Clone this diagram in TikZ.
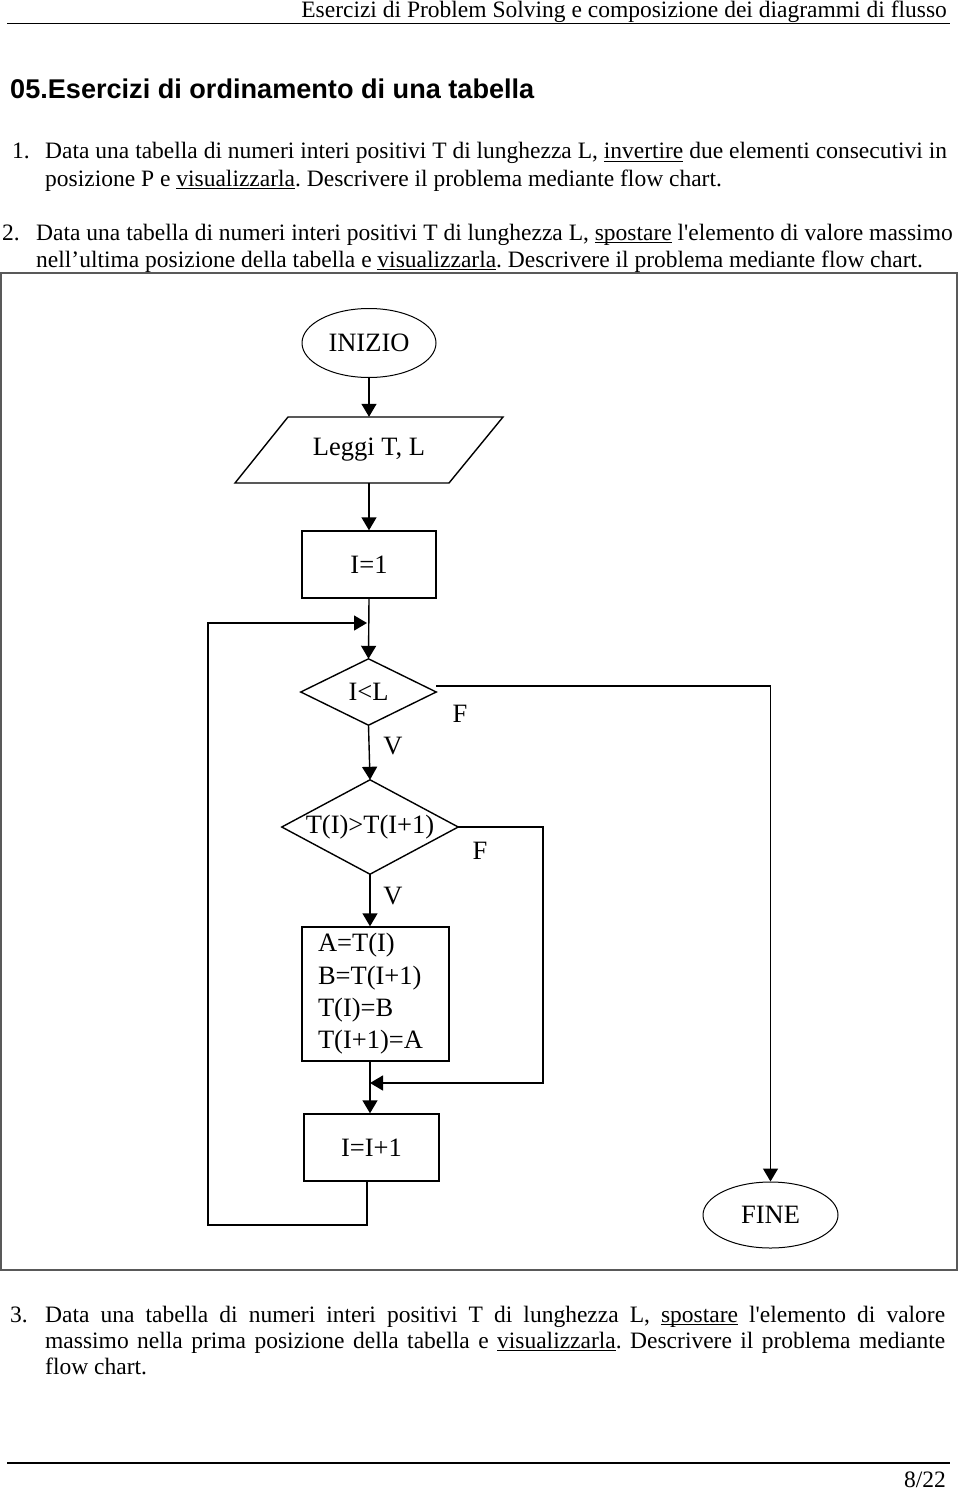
\documentclass[tikz,border=0pt]{standalone}
\usepackage{fontspec}
\setmainfont{Liberation Serif}
\newfontfamily\titlefont{Liberation Sans}
\usetikzlibrary{shapes.geometric,arrows.meta}
\newcommand\myul[1]{\setbox0\hbox{#1}\rlap{\rule[-3pt]{\wd0}{1.1pt}}\box0\relax}
\frenchspacing
\begin{document}
\begin{tikzpicture}[x=1pt,y=-1pt,
  txt/.style={anchor=base west,inner sep=0,font=\fontsize{23.5}{27}\selectfont},
  fc/.style={font=\fontsize{26.5}{32.3}\selectfont},
  box/.style={draw,line width=1.4pt,inner sep=0,fc},
  oval/.style={ellipse,draw,line width=1pt,inner sep=0,fc},
  shapebox/.style={inner sep=0,fc},
  ln/.style={line width=1.4pt},
  arr/.style={line width=1.4pt,-{Triangle[length=13pt,width=15pt]}},
  lbl/.style={inner sep=0,fc}
]
\useasboundingbox (0,0) rectangle (960,1490);
\fill[white] (0,0) rectangle (960,1490);

% header
\node[txt,anchor=base east] (hdr) at (947,17.5) {Esercizi di Problem Solving e composizione dei diagrammi di flusso};
\draw[line width=1.2pt] (7,23.5) -- (950,23.5);

% title
\node[txt,font={\titlefont\bfseries\fontsize{27.1}{30}\selectfont}] (title) at (10,99) {05.Esercizi di ordinamento di una tabella};

% item 1
\node[txt] (n1) at (12,159) {1.};
\node[txt] (t1a) at (45,159) {Data una tabella di numeri interi positivi T di lunghezza L, \myul{invertire} due elementi consecutivi in};
\node[txt] (t1b) at (45,186) {posizione P e \myul{visualizzarla}. Descrivere il problema mediante flow chart.};

% item 2
\node[txt] (n2) at (2,240) {2.};
\node[txt] (t2a) at (36,240) {Data una tabella di numeri interi positivi T di lunghezza L, \myul{spostare} l\textquotesingle elemento di valore massimo};
\node[txt] (t2b) at (36,267) {nell’ultima posizione della tabella e \myul{visualizzarla}. Descrivere il problema mediante flow chart.};

% frame
\draw[line width=2pt,color=black!65] (1,273) rectangle (957,1270);

% flowchart nodes
\node[oval,minimum width=134pt,minimum height=69pt] (ini) at (369,343) {INIZIO};
\node[shapebox,minimum width=268pt,minimum height=66pt] (leg) at (369,450) {Leggi T, L};
\draw[ln] (288,417) -- (503,417) -- (449,483) -- (235,483) -- cycle;
\node[box,minimum width=134pt,minimum height=67pt] (i1) at (369,564.5) {I=1};
\node[shapebox,minimum width=135pt,minimum height=66pt] (lt) at (368.5,692) {I<L};
\draw[ln] (lt.north) -- (lt.east) -- (lt.south) -- (lt.west) -- cycle;
\node[shapebox,minimum width=176pt,minimum height=94pt] (d2) at (370,827) {T(I)>T(I+1)};
\draw[ln] (d2.north) -- (d2.east) -- (d2.south) -- (d2.west) -- cycle;
\node[box,minimum height=134pt,inner xsep=16pt,text width=115pt,align=left] (sw) at (375.5,994) {A=T(I)\\B=T(I+1)\\T(I)=B\\T(I+1)=A};
\node[box,minimum width=135pt,minimum height=67pt] (i2) at (371.5,1147.5) {I=I+1};
\node[oval,minimum width=135pt,minimum height=66pt] (fine) at (770.5,1215) {FINE};

% labels
\node[lbl] (f1) at (460,714) {F};
\node[lbl] (v1) at (393,746) {V};
\node[lbl] (f2) at (480,851) {F};
\node[lbl] (v2) at (393,896) {V};

% helper coordinates
\coordinate (j) at (370,1083);
\coordinate (fr) at (543,1000);
\coordinate (loopin) at (367,623);
\coordinate (lb) at (208,1225);

% connectors
\draw[arr] (ini.south) -- (leg.north);
\draw[arr] (leg.south) -- (i1.north);
\draw[arr] (i1.south) -- (lt.north);
\draw[arr] (lt.south) -- (d2.north);
\draw[arr] (d2.south) -- (d2.south |- sw.north);
\draw[arr] (d2.south |- sw.south) -- (d2.south |- i2.north);
\draw[arr] ([yshift=6pt]lt.east) -| (fine.north);
\draw[arr] (d2.east) -| (fr) |- (j);
\draw[arr] (i2.south -| loopin) |- (lb) |- (loopin);

% item 3
\node[txt] (n3) at (10,1322) {3.};
\node[txt] (t3a) at (45,1322) {\makebox[900pt][s]{Data una tabella di numeri interi positivi T di lunghezza L, \myul{spostare} l\textquotesingle elemento di valore}};
\node[txt] (t3b) at (45,1348) {\makebox[900pt][s]{massimo nella prima posizione della tabella e \myul{visualizzarla}. Descrivere il problema mediante}};
\node[txt] (t3c) at (45,1374) {flow chart.};

% footer
\draw[line width=1.2pt] (7,1463) -- (950,1463);
\node[txt,anchor=base east] (pg) at (946,1487) {8/22};
\end{tikzpicture}
\end{document}
